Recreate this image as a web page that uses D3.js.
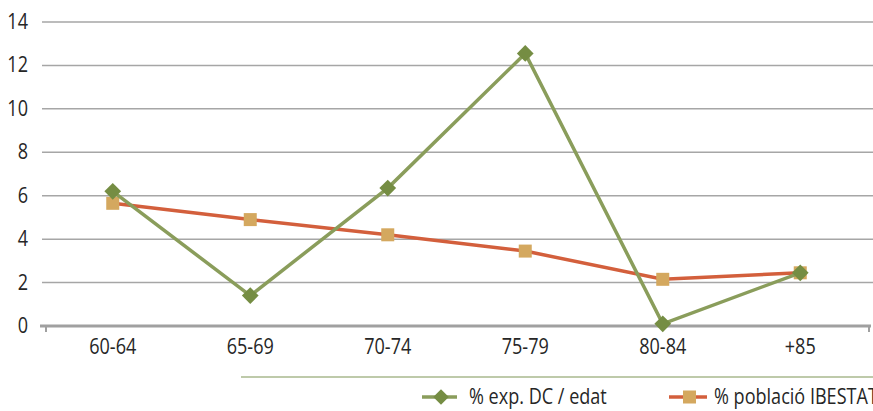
<!DOCTYPE html>
<html>
<head>
<meta charset="utf-8">
<script src="https://cdn.jsdelivr.net/npm/d3@7"></script>
<style>
  body { margin: 0; background: #fff; }
  svg text { font-family: "Open Sans", sans-serif; fill: #262626; }
</style>
</head>
<body>
<div class="chart"></div>
<script>
// Dades
const categories = ["60-64", "65-69", "70-74", "75-79", "80-84", "+85"];
const expDC = [6.2, 1.4, 6.35, 12.55, 0.1, 2.45];
const poblacio = [5.65, 4.9, 4.2, 3.45, 2.15, 2.45];
const yTicks = [0, 2, 4, 6, 8, 10, 12, 14];
const seriesNames = ["% exp. DC / edat", "% població IBESTAT"];

// Mesures
const size = { width: 873, height: 411 };
const plot = { left: 44, right: 869, top: 22, bottom: 326 };
const fontSize = 21;
const squeeze = 0.86; // la font original és condensada

const svg = d3.select(".chart")
  .append("svg")
  .attr("width", size.width)
  .attr("height", size.height);

const x = d3.scaleBand()
  .domain(categories)
  .range([plot.left, plot.right]);

const y = d3.scaleLinear()
  .domain([0, 14])
  .range([plot.bottom, plot.top]);

const place = (px, py) => `translate(${px},${py}) scale(${squeeze},1)`;

// gridlines
svg.append("g")
  .selectAll("line")
  .data(yTicks.filter(d => d > 0))
  .enter()
  .append("line")
  .attr("x1", 42)
  .attr("x2", size.width)
  .attr("y1", d => y(d))
  .attr("y2", d => y(d))
  .attr("stroke", "#a6a6a6")
  .attr("stroke-width", 1.5);

// y labels
svg.append("g")
  .selectAll("text")
  .data(yTicks)
  .enter()
  .append("text")
  .attr("transform", d => place(28, y(d) + 7))
  .attr("text-anchor", "end")
  .attr("font-size", fontSize)
  .text(d => d);

// x axis
const xAxis = svg.append("g");
xAxis.append("line")
  .attr("x1", 40)
  .attr("x2", plot.right + 2)
  .attr("y1", y(0))
  .attr("y2", y(0))
  .attr("stroke", "#a0a0a0")
  .attr("stroke-width", 3);
xAxis.selectAll(".tick")
  .data([plot.left + 2, plot.right])
  .enter()
  .append("line")
  .attr("x1", d => d)
  .attr("x2", d => d)
  .attr("y1", y(0))
  .attr("y2", y(0) + 6)
  .attr("stroke", "#a0a0a0")
  .attr("stroke-width", 2);
xAxis.selectAll("text")
  .data(categories)
  .enter()
  .append("text")
  .attr("transform", d => place(x(d) + x.bandwidth() / 2, 354))
  .attr("text-anchor", "middle")
  .attr("font-size", fontSize)
  .text(d => d);

const cx = (d, i) => x(categories[i]) + x.bandwidth() / 2;
const line = d3.line().x(cx).y(d => y(d));

// sèrie població
svg.append("path")
  .datum(poblacio)
  .attr("d", line)
  .attr("fill", "none")
  .attr("stroke", "#d35f3c")
  .attr("stroke-width", 3.5);
svg.append("g")
  .selectAll("rect")
  .data(poblacio)
  .enter()
  .append("rect")
  .attr("x", (d, i) => cx(d, i) - 6.5)
  .attr("y", d => y(d) - 6.5)
  .attr("width", 13)
  .attr("height", 13)
  .attr("fill", "#d4a85f");

// sèrie exp. DC
svg.append("path")
  .datum(expDC)
  .attr("d", line)
  .attr("fill", "none")
  .attr("stroke", "#8a9d5b")
  .attr("stroke-width", 3.5);
svg.append("g")
  .selectAll("path")
  .data(expDC)
  .enter()
  .append("path")
  .attr("d", d3.symbol().type(d3.symbolSquare).size(140))
  .attr("transform", (d, i) => `translate(${cx(d, i)},${y(d)}) rotate(45)`)
  .attr("fill", "#758d43");

// llegenda
const legend = svg.append("g");
legend.append("line")
  .attr("x1", 241)
  .attr("x2", size.width)
  .attr("y1", 377)
  .attr("y2", 377)
  .attr("stroke", "#7f9656")
  .attr("stroke-width", 1.2);

const leg1 = legend.append("g").attr("transform", "translate(422,397)");
leg1.append("line").attr("x1", 0).attr("x2", 35).attr("stroke", "#8a9d5b").attr("stroke-width", 3.5);
leg1.append("path")
  .attr("d", d3.symbol().type(d3.symbolSquare).size(120))
  .attr("transform", "translate(19,0) rotate(45)")
  .attr("fill", "#758d43");
leg1.append("text").attr("transform", place(47, 7)).attr("font-size", fontSize).text(seriesNames[0]);

const leg2 = legend.append("g").attr("transform", "translate(669,397)");
leg2.append("line").attr("x1", 0).attr("x2", 38).attr("stroke", "#d35f3c").attr("stroke-width", 3.5);
leg2.append("rect").attr("x", 14).attr("y", -6.5).attr("width", 13).attr("height", 13).attr("fill", "#d4a85f");
leg2.append("text").attr("transform", place(45, 7)).attr("font-size", fontSize).text(seriesNames[1]);
</script>
</body>
</html>
